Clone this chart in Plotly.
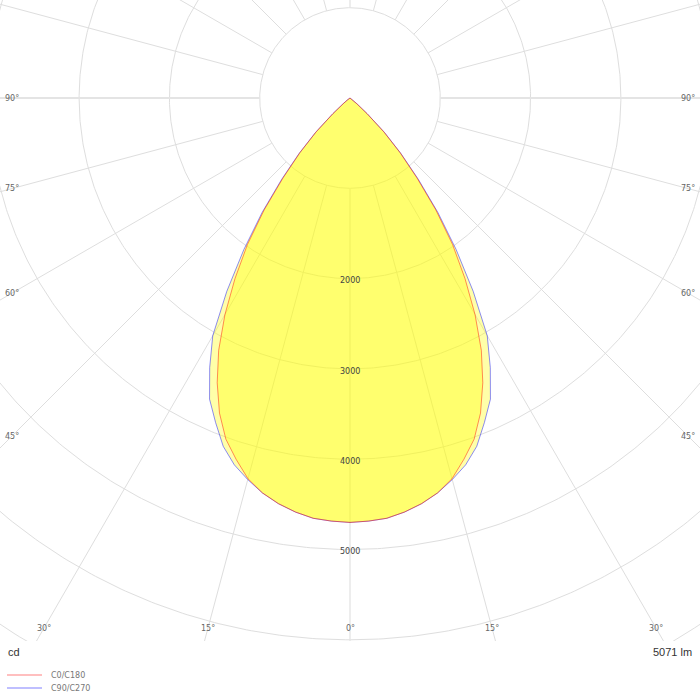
import numpy as np
import plotly.graph_objects as go

# gamma angles (deg from nadir) and luminous intensity (cd)
gamma = [0, 2.5, 5, 7.5, 10, 12.5, 15, 17.5, 20, 22.5, 25, 27.5, 30, 32.5, 35,
         37.5, 40, 42.5, 45, 47.5, 50, 52.5, 55, 57.5, 60, 62.5, 65, 67.5, 70,
         72.5, 75, 77.5, 80, 82.5, 85, 87.5, 90]
c0_c180 = [4700, 4690, 4672, 4625, 4562, 4480, 4365, 4195, 4020, 3777, 3480,
           3150, 2770, 2370, 1980, 1560, 1150, 820, 530, 255, 100, 40, 10, 0,
           0, 0, 0, 0, 0, 0, 0, 0, 0, 0, 0, 0, 0]
c90_c270 = [4700, 4690, 4672, 4625, 4562, 4480, 4375, 4260, 4105, 3890, 3680,
            3365, 3040, 2540, 2050, 1600, 1180, 835, 540, 260, 100, 40, 10, 0,
            0, 0, 0, 0, 0, 0, 0, 0, 0, 0, 0, 0, 0]

series_names = ["C0/C180", "C90/C270"]
ring_values = [1000, 2000, 3000, 4000, 5000, 6000, 7000]
ring_labels = [2000, 3000, 4000, 5000]
spoke_angles = list(range(0, 360, 15))
angle_labels = [0, 15, 30, 45, 60, 75, 90]
flux_lm = 5071

PX = 0.0903  # pixels per cd
GRID = "#dedede"
FONT = "DejaVu Sans"


def to_xy(g, r):
    g = np.radians(np.asarray(g, dtype=float))
    r = np.asarray(r, dtype=float)
    return r * np.sin(g), -r * np.cos(g)


def closed_curve(values):
    # left half (C180 / C270) then right half (C0 / C90)
    g = np.array(gamma)
    v = np.array(values)
    g_all = np.concatenate([-g[::-1], g[1:]])
    v_all = np.concatenate([v[::-1], v[1:]])
    return to_xy(g_all, v_all)


fig = go.Figure()

# polar grid: rings
gx, gy = [], []
t = np.linspace(0, 360, 721)
for rv in ring_values:
    x, y = to_xy(t, np.full_like(t, rv))
    gx += list(x) + [None]
    gy += list(y) + [None]
fig.add_trace(go.Scatter(x=gx, y=gy, mode="lines", line=dict(color=GRID, width=1),
                         hoverinfo="skip", showlegend=False))

# spokes
sx, sy = [], []
for a in spoke_angles:
    if a % 90 == 0:
        continue
    x, y = to_xy([a, a], [ring_values[0], 8000])
    sx += list(x) + [None]
    sy += list(y) + [None]
fig.add_trace(go.Scatter(x=sx, y=sy, mode="lines", line=dict(color=GRID, width=1),
                         hoverinfo="skip", showlegend=False))
for a, w in [(0, 1.3), (180, 1.3), (90, 2), (270, 2)]:
    x, y = to_xy([a, a], [ring_values[0], 8000])
    fig.add_trace(go.Scatter(x=x, y=y, mode="lines", line=dict(color="#e4e4e4", width=w),
                             hoverinfo="skip", showlegend=False))

# intensity curves
line_cols = ["rgba(255,0,0,0.45)", "rgba(0,0,255,0.45)"]
for vals, col, name in [(c90_c270, line_cols[1], series_names[1]),
                        (c0_c180, line_cols[0], series_names[0])]:
    x, y = closed_curve(vals)
    fig.add_trace(go.Scatter(x=x, y=y, mode="lines", fill="toself", name=name,
                             fillcolor="rgba(255,255,0,0.34)",
                             line=dict(color=col, width=1),
                             hoverinfo="skip", showlegend=False))

annotations = []
for rv in ring_labels:
    annotations.append(dict(x=0, y=-rv - 25, xref="x", yref="y", text=str(rv),
                            showarrow=False, font=dict(family=FONT, size=8, color="#444")))

# angle labels along the edges of the frame
W = 338 / PX
D = 530 / PX
for a in angle_labels:
    for side in ([-1, 1] if a else [1]):
        if a < 90 and D * np.tan(np.radians(a)) <= W:
            lx, ly = side * D * np.tan(np.radians(a)), -D
        else:
            lx, ly = side * W, (-W / np.tan(np.radians(a)) if a < 90 else 0)
        annotations.append(dict(x=lx, y=ly, xref="x", yref="y", text=f"{a}°",
                                showarrow=False,
                                font=dict(family=FONT, size=8, color="#666")))

annotations.append(dict(x=6 / 700, y=1 - 652 / 700, xref="paper", yref="paper", text="cd",
                        showarrow=False, xanchor="left", yanchor="middle",
                        font=dict(family="Liberation Sans", size=11, color="#333")))
annotations.append(dict(x=694 / 700, y=1 - 652 / 700, xref="paper", yref="paper",
                        text=f"{flux_lm} lm", showarrow=False, xanchor="right",
                        yanchor="middle",
                        font=dict(family="Liberation Sans", size=11, color="#333")))

# legend drawn by hand to match the compact spacing
shapes = []
for i, (name, col) in enumerate(zip(series_names, ["rgba(255,0,0,0.25)", "rgba(0,0,255,0.25)"])):
    yp = 1 - (675 + 13 * i) / 700
    shapes.append(dict(type="line", xref="paper", yref="paper", x0=7 / 700, x1=42 / 700,
                       y0=yp, y1=yp, line=dict(color=col, width=2)))
    annotations.append(dict(x=49 / 700, y=yp, xref="paper", yref="paper", text=name,
                            showarrow=False, xanchor="left", yanchor="middle",
                            font=dict(family=FONT, size=8, color="#777")))

fig.update_xaxes(range=[-350 / PX, 350 / PX], visible=False, domain=[0, 1])
fig.update_yaxes(range=[-543 / PX, 98 / PX], visible=False, domain=[59 / 700, 1])

fig.update_layout(
    width=700,
    height=700,
    margin=dict(l=0, r=0, t=0, b=0),
    plot_bgcolor="white",
    paper_bgcolor="white",
    annotations=annotations,
    shapes=shapes,
    showlegend=False,
)

fig.write_html("out.html", config={"displayModeBar": False},
               post_script="document.body.style.margin='0';")
